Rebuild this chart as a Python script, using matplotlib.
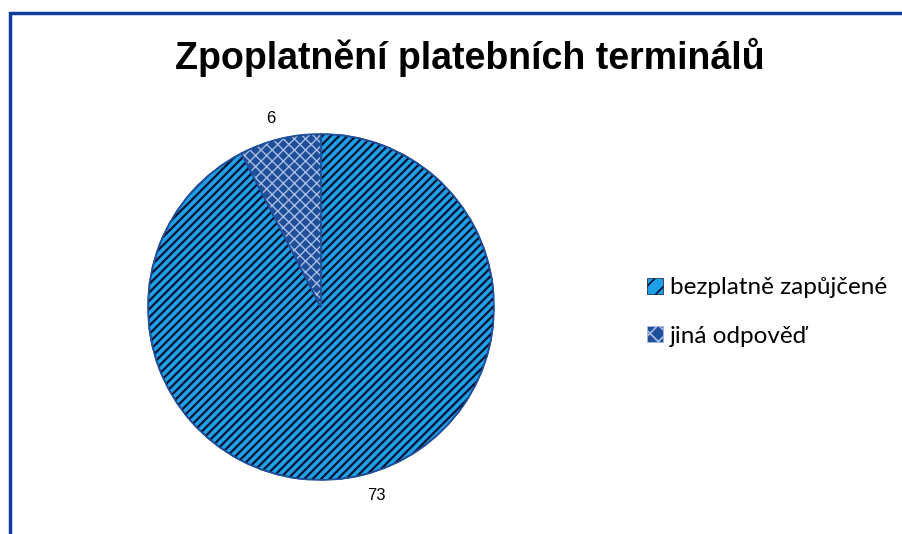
import matplotlib
matplotlib.use("Agg")
import matplotlib.pyplot as plt
from matplotlib.patches import Rectangle, Wedge

title = "Zpoplatnění platebních terminálů"
categories = ["bezplatně zapůjčené", "jiná odpověď"]
values = [73, 6]

fills = ["#1EA0E8", "#1F4E9A"]
hatch_cols = ["#0A1230", "#A9BCE2"]
hatches = ["////", "xxx"]
hatch_lw = [1.6, 1.0]
edge = "#1F4E9A"

W, H = 902, 534
fig = plt.figure(figsize=(W / 100, H / 100), dpi=100)

# frame
fig.patches.append(Rectangle((9.5 / W, -0.1), 1.2, (H - 13) / H + 0.1,
                             transform=fig.transFigure, fill=False,
                             edgecolor="#0E3D99", linewidth=2.5))

cx, cy, r = 321, 307, 173
ax = fig.add_axes([(cx - r) / W, (H - cy - r) / H, 2 * r / W, 2 * r / H])
wedges, texts = ax.pie(values, labels=[str(v) for v in values], startangle=90,
                       counterclock=False, colors=fills, labeldistance=1.12,
                       wedgeprops=dict(edgecolor=edge, linewidth=1.2),
                       textprops=dict(fontsize=12, family="Liberation Sans"))
for w, hc, h, lw in zip(wedges, hatch_cols, hatches, hatch_lw):
    plt.rcParams["hatch.linewidth"] = lw
    hw = Wedge(w.center, w.r, w.theta1, w.theta2, facecolor="none",
               edgecolor=hc, hatch=h, linewidth=0)
    ax.add_patch(hw)
    ow = Wedge(w.center, w.r, w.theta1, w.theta2, facecolor="none",
               edgecolor=edge, linewidth=1.2)
    ax.add_patch(ow)
ax.set_xlim(-1, 1)
ax.set_ylim(-1, 1)
ax.set_aspect("equal")
ax.axis("off")

fig.text(470 / W, 1 - 57 / H, title, ha="center", va="center",
         fontsize=27, fontweight="bold", family="Liberation Sans")

# legend handles
plt.rcParams["hatch.linewidth"] = 1.2
handles = []
for f, hc, h in zip(fills, hatch_cols, hatches):
    p = Rectangle((0, 0), 1, 1, facecolor=f, edgecolor=hc, hatch=h[:2], linewidth=0.5)
    handles.append(p)
leg = fig.legend(handles, categories, loc="center left",
                 bbox_to_anchor=(625 / W, 1 - 312 / H), frameon=False,
                 prop=dict(family="Lato", size=17.5), handlelength=0.68,
                 handleheight=0.68, handletextpad=0.28, labelspacing=1.12)

fig.savefig("out.png", dpi=100)
